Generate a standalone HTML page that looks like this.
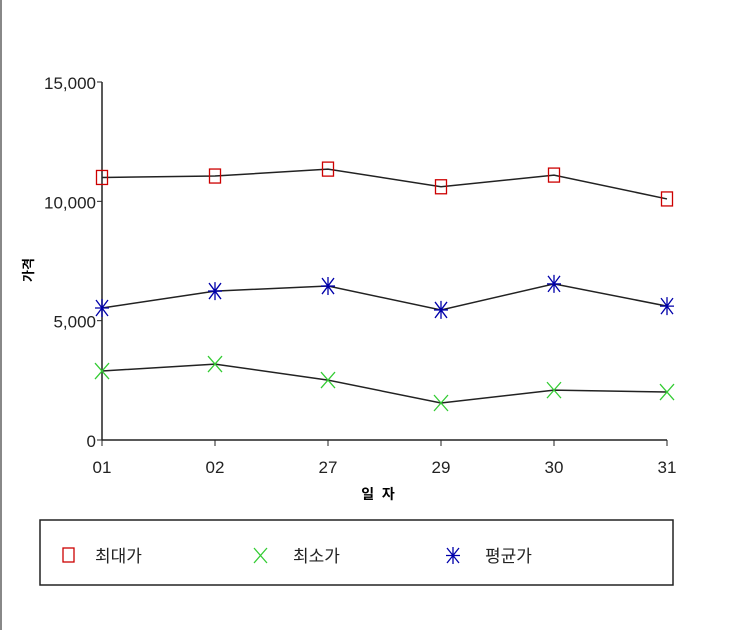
<!DOCTYPE html>
<html><head><meta charset="utf-8"><style>
body{margin:0;background:#fff;width:730px;height:630px;overflow:hidden;font-family:"Liberation Sans","Noto Sans CJK KR",sans-serif}
</style></head><body>
<svg width="730" height="630" font-family="Liberation Sans, Noto Sans CJK KR, sans-serif">
<line x1="1" y1="0" x2="1" y2="630" stroke="#888" stroke-width="2"/>
<g id="axes"></g>
<g id="series"></g>
<text x="0" y="0" transform="translate(33,270) rotate(-90)" text-anchor="middle" font-size="13" font-weight="bold">가격</text>
<text x="378" y="499" text-anchor="middle" font-size="14" font-weight="bold">일 &#160;자</text>
<rect x="40" y="520" width="633" height="65" fill="none" stroke="#222" stroke-width="1.5"/>
<g><rect x="63" y="548" width="11" height="14" fill="none" stroke="#c00" stroke-width="1.3"/><text x="95" y="562" font-size="17" fill="#222">최대가</text></g>
<g><path d="M254,548 L267,563 M267,548 L254,563" stroke="#3c3" stroke-width="1.3"/><text x="293" y="562" font-size="17" fill="#222">최소가</text></g>
<g><path d="M447,548 L459,563 M459,548 L447,563 M453,547 L453,564 M446,555.5 L460,555.5" stroke="#00a" stroke-width="1.3"/><text x="485" y="562" font-size="17" fill="#222">평균가</text></g>
</svg>
<script>
const categories=["01","02","27","29","30","31"];
const maxPrice=[11000,11060,11350,10610,11100,10100];
const minPrice=[2890,3180,2510,1550,2090,2010];
const avgPrice=[5530,6240,6450,5450,6540,5610];
const yTicks=[0,5000,10000,15000];
const yTickLabels=["0","5,000","10,000","15,000"];
const NS="http://www.w3.org/2000/svg";
const x=i=>102+i*113;
const y=v=>440-v*(358/15000);
function mk(tag,attrs,parent){const e=document.createElementNS(NS,tag);for(const k in attrs)e.setAttribute(k,attrs[k]);parent.appendChild(e);return e;}
const axes=document.getElementById('axes');
let yl=mk('line',{x1:102,y1:y(15000),x2:102,y2:440,stroke:'#222','stroke-width':1.5},axes);


let xl=mk('line',{x1:102,y1:440,x2:x(5),y2:440,stroke:'#222','stroke-width':1.5},axes);


yTicks.forEach((t,i)=>{mk('line',{x1:97,y1:y(t),x2:102,y2:y(t),stroke:'#222'},axes);
const tx=mk('text',{x:96,y:y(t)+7,'text-anchor':'end','font-size':17,fill:'#222'},axes);tx.textContent=yTickLabels[i];

});
categories.forEach((c,i)=>{mk('line',{x1:x(i),y1:440,x2:x(i),y2:446,stroke:'#222'},axes);
const tx=mk('text',{x:x(i),y:473,'text-anchor':'middle','font-size':17,fill:'#222'},axes);tx.textContent=c;

});
const sg=document.getElementById('series');
function line(vals,name){const p=mk('polyline',{points:vals.map((v,i)=>x(i)+','+y(v)).join(' '),fill:'none',stroke:'#222','stroke-width':1.5},sg);

}
line(maxPrice,'max-price-line');line(minPrice,'min-price-line');line(avgPrice,'avg-price-line');
maxPrice.forEach((v,i)=>{const m=mk('rect',{x:x(i)-5.5,y:y(v)-7,width:11,height:14,fill:'none',stroke:'#c00','stroke-width':1.3},sg);

});
minPrice.forEach((v,i)=>{const X=x(i),Y=y(v);const m=mk('path',{d:`M${X-7},${Y-8}L${X+7},${Y+8}M${X+7},${Y-8}L${X-7},${Y+8}`,stroke:'#3c3','stroke-width':1.3},sg);

});
avgPrice.forEach((v,i)=>{const X=x(i),Y=y(v);const m=mk('path',{d:`M${X-6},${Y-8}L${X+6},${Y+8}M${X+6},${Y-8}L${X-6},${Y+8}M${X},${Y-9}L${X},${Y+9}M${X-7},${Y}L${X+7},${Y}`,stroke:'#00a','stroke-width':1.3},sg);

});
</script>
</body></html>
